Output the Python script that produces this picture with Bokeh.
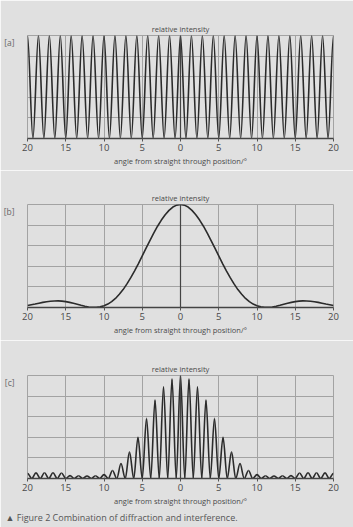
import numpy as np
from bokeh.plotting import figure
from bokeh.models import FixedTicker, Span, Title
from bokeh.layouts import column
from bokeh.embed import file_html
from bokeh.resources import INLINE

# ---------------- data ----------------
tick_positions = [-20, -15, -10, -5, 0, 5, 10, 15, 20]
tick_labels = ["20", "15", "10", "5", "0", "5", "10", "15", "20"]
y_grid_levels = [0.0, 0.2, 0.4, 0.6, 0.8, 1.0]

# (a) interference fringes: maxima and minima
a_peak_angle = [-20, -18.57, -17.14, -15.71, -14.29, -12.86, -11.43, -10, -8.57, -7.14,
                -5.71, -4.29, -2.86, -1.43, 0, 1.43, 2.86, 4.29, 5.71, 7.14,
                8.57, 10, 11.43, 12.86, 14.29, 15.71, 17.14, 18.57, 20]
a_peak_value = [1.0, 1.0, 1.0, 1.0, 1.0, 1.0, 1.0, 1.0, 1.0, 1.0,
                1.0, 1.0, 1.0, 1.0, 1.0, 1.0, 1.0, 1.0, 1.0, 1.0,
                1.0, 1.0, 1.0, 1.0, 1.0, 1.0, 1.0, 1.0, 1.0]
a_trough_angle = [-19.29, -17.86, -16.43, -15, -13.57, -12.14, -10.71, -9.29, -7.86, -6.43,
                  -5, -3.57, -2.14, -0.71, 0.71, 2.14, 3.57, 5, 6.43, 7.86,
                  9.29, 10.71, 12.14, 13.57, 15, 16.43, 17.86, 19.29]
a_trough_value = [0.0, 0.0, 0.0, 0.0, 0.0, 0.0, 0.0, 0.0, 0.0, 0.0,
                  0.0, 0.0, 0.0, 0.0, 0.0, 0.0, 0.0, 0.0, 0.0, 0.0,
                  0.0, 0.0, 0.0, 0.0, 0.0, 0.0, 0.0, 0.0]

# (b) diffraction envelope
b_angle = [-20, -19.5, -19, -18.5, -18, -17.5, -17, -16.5, -16, -15.5,
           -15, -14.5, -14, -13.5, -13, -12.5, -12, -11.5, -11, -10.5,
           -10, -9.5, -9, -8.5, -8, -7.5, -7, -6.5, -6, -5.5,
           -5, -4.5, -4, -3.5, -3, -2.5, -2, -1.5, -1, -0.5,
           0,
           0.5, 1, 1.5, 2, 2.5, 3, 3.5, 4, 4.5, 5,
           5.5, 6, 6.5, 7, 7.5, 8, 8.5, 9, 9.5, 10,
           10.5, 11, 11.5, 12, 12.5, 13, 13.5, 14, 14.5, 15,
           15.5, 16, 16.5, 17, 17.5, 18, 18.5, 19, 19.5, 20]
b_intensity = [0.019, 0.027, 0.034, 0.042, 0.050, 0.056, 0.061, 0.063, 0.064, 0.062,
               0.057, 0.050, 0.041, 0.031, 0.021, 0.012, 0.005, 0.001, 0.001, 0.006,
               0.016, 0.033, 0.057, 0.088, 0.128, 0.174, 0.229, 0.290, 0.356, 0.427,
               0.501, 0.576, 0.650, 0.722, 0.789, 0.849, 0.901, 0.943, 0.975, 0.994,
               1.0,
               0.994, 0.975, 0.943, 0.901, 0.849, 0.789, 0.722, 0.650, 0.576, 0.501,
               0.427, 0.356, 0.290, 0.229, 0.174, 0.128, 0.088, 0.057, 0.033, 0.016,
               0.006, 0.001, 0.001, 0.005, 0.012, 0.021, 0.031, 0.041, 0.050, 0.057,
               0.062, 0.064, 0.063, 0.061, 0.056, 0.050, 0.042, 0.034, 0.027, 0.019]

# (c) combined pattern: maxima and minima
c_peak_angle = [-20, -18.89, -17.78, -16.67, -15.56, -14.44, -13.33, -12.22, -11.11, -10,
                -8.89, -7.78, -6.67, -5.56, -4.44, -3.33, -2.22, -1.11, 0,
                1.11, 2.22, 3.33, 4.44, 5.56, 6.67, 7.78, 8.89, 10,
                11.11, 12.22, 13.33, 14.44, 15.56, 16.67, 17.78, 18.89, 20]
c_peak_value = [0.05, 0.055, 0.056, 0.056, 0.054, 0.028, 0.026, 0.025, 0.027, 0.038,
                0.078, 0.145, 0.26, 0.40, 0.584, 0.763, 0.893, 0.967, 1.0,
                0.967, 0.893, 0.763, 0.584, 0.40, 0.26, 0.145, 0.078, 0.038,
                0.027, 0.025, 0.026, 0.028, 0.054, 0.056, 0.056, 0.055, 0.05]
c_trough_angle = [-19.44, -18.33, -17.22, -16.11, -15, -13.89, -12.78, -11.67, -10.56, -9.44,
                  -8.33, -7.22, -6.11, -5, -3.89, -2.78, -1.67, -0.56,
                  0.56, 1.67, 2.78, 3.89, 5, 6.11, 7.22, 8.33,
                  9.44, 10.56, 11.67, 12.78, 13.89, 15, 16.11, 17.22, 18.33, 19.44]
c_trough_value = [0.0, 0.0, 0.0, 0.0, 0.0, 0.0, 0.0, 0.0, 0.0, 0.0,
                  0.0, 0.0, 0.0, 0.0, 0.0, 0.0, 0.0, 0.0,
                  0.0, 0.0, 0.0, 0.0, 0.0, 0.0, 0.0, 0.0,
                  0.0, 0.0, 0.0, 0.0, 0.0, 0.0, 0.0, 0.0, 0.0, 0.0]

panel_tags = ["[a]", "[b]", "[c]"]
x_label = "angle from straight through position/\u00b0"
y_label = "relative intensity"
caption = "\u25b2 Figure 2 Combination of diffraction and interference."

# ---------------- styling ----------------
BG = "#e0e0e0"
GRID = "#a3a3a3"
CURVE = "#2b2b2b"
TEXT = "#4a4a4a"
FONT = "Open Sans"
TAG_LEVEL = 0.93  # vertical place of the panel tag (just below the top)


def make_panel(tag, height, top, bottom):
    p = figure(width=353, height=height, x_range=(-20, 20), y_range=(0, 1),
               output_backend="svg", toolbar_location=None,
               min_border_left=27, min_border_right=20,
               min_border_top=top, min_border_bottom=bottom)
    p.background_fill_color = BG
    p.border_fill_color = BG
    p.outline_line_color = GRID
    p.outline_line_width = 1

    p.xgrid.ticker = FixedTicker(ticks=tick_positions)
    p.ygrid.ticker = FixedTicker(ticks=y_grid_levels)
    for g in (p.xgrid, p.ygrid):
        g.grid_line_color = GRID
        g.grid_line_width = 1

    ax = p.xaxis[0]
    ax.ticker = FixedTicker(ticks=tick_positions)
    ax.major_label_overrides = {t: l for t, l in zip(tick_positions, tick_labels)}
    ax.minor_tick_line_color = None
    ax.major_tick_in = 0
    ax.major_tick_out = 3
    ax.major_tick_line_color = "#555555"
    ax.axis_line_color = "#444444"
    ax.axis_line_width = 1.3
    ax.major_label_standoff = 2
    ax.major_label_text_font = FONT
    ax.major_label_text_font_size = "9.5px"
    ax.major_label_text_color = TEXT
    ax.axis_label = x_label
    ax.axis_label_standoff = 2
    ax.axis_label_text_font = FONT
    ax.axis_label_text_font_size = "7.5px"
    ax.axis_label_text_font_style = "normal"
    ax.axis_label_text_color = TEXT

    # panel tag shown as the single label of the left axis
    ay = p.yaxis[0]
    ay.ticker = FixedTicker(ticks=[TAG_LEVEL])
    ay.major_label_overrides = {TAG_LEVEL: tag}
    ay.axis_line_color = None
    ay.major_tick_line_color = None
    ay.minor_tick_line_color = None
    ay.major_label_standoff = 7
    ay.major_label_text_font = FONT
    ay.major_label_text_font_size = "8.5px"
    ay.major_label_text_color = "#666666"

    # intensity axis through 0
    p.add_layout(Span(location=0, dimension="height", line_color="#444444", line_width=1.2))
    p.add_layout(Title(text=y_label, align="center", text_font=FONT,
                       text_font_size="7.5px", text_font_style="normal",
                       text_color=TEXT, standoff=4), "above")
    return p


def draw_fringes(p, peak_x, peak_y, trough_x, trough_y):
    ex = np.array(peak_x + trough_x, dtype=float)
    ey = np.array(peak_y + trough_y, dtype=float)
    order = np.argsort(ex)
    ex, ey = ex[order], ey[order]
    x0, x1 = ex[:-1], ex[1:]
    y0, y1 = ey[:-1], ey[1:]
    p.bezier(x0=x0, y0=y0, x1=x1, y1=y1,
             cx0=x0 + (x1 - x0) * 0.33, cy0=y0,
             cx1=x1 - (x1 - x0) * 0.33, cy1=y1,
             line_color=CURVE, line_width=1.6)


pa = make_panel(panel_tags[0], 170, 35, 32)
draw_fringes(pa, a_peak_angle, a_peak_value, a_trough_angle, a_trough_value)

pb = make_panel(panel_tags[1], 170, 34, 33)
pb.line(b_angle, b_intensity, line_color=CURVE, line_width=1.6)

pc = make_panel(panel_tags[2], 187, 35, 49)
draw_fringes(pc, c_peak_angle, c_peak_value, c_trough_angle, c_trough_value)
pc.add_layout(Title(text=caption, align="left", offset=-22, text_font=FONT,
                    text_font_size="9px", text_font_style="normal",
                    text_color="#555555", standoff=0), "below")

layout = column(pa, pb, pc, spacing=0)
html = file_html(layout, INLINE)
html = html.replace("<body>", '<body style="background:%s">' % BG, 1)
open("out.html", "w").write(html)
